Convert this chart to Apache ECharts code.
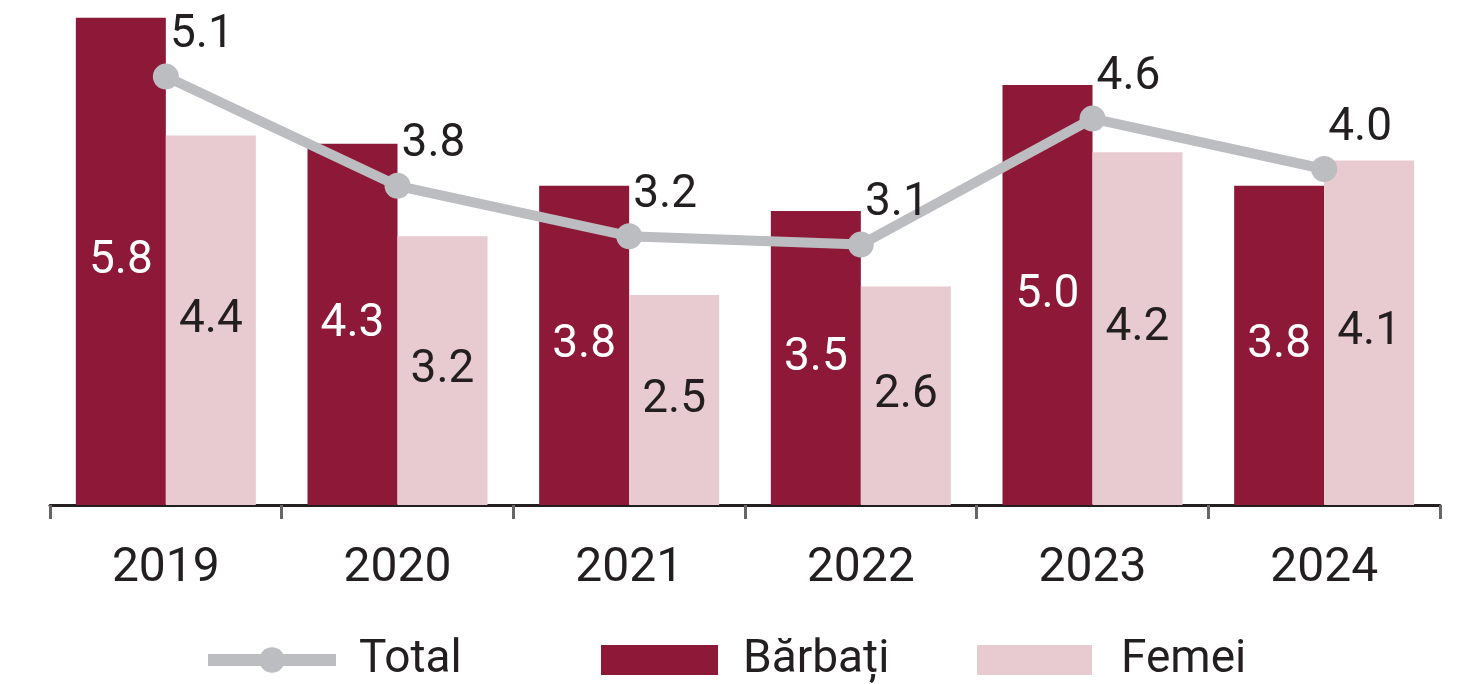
<!DOCTYPE html>
<html>
<head>
<meta charset="utf-8">
<script src="https://cdn.jsdelivr.net/npm/echarts@6/dist/echarts.min.js"></script>
<style>
html, body { margin: 0; padding: 0; background: #fff; }
#chart { width: 1461px; height: 684px; }
</style>
</head>
<body>
<div id="chart"></div>
<script>
var years = ['2019', '2020', '2021', '2022', '2023', '2024'];
var totalValues = [5.1, 3.8, 3.2, 3.1, 4.6, 4.0];   // Total
var menValues = [5.8, 4.3, 3.8, 3.5, 5.0, 3.8];     // Bărbați
var womenValues = [4.4, 3.2, 2.5, 2.6, 4.2, 4.1];   // Femei

var font = 'Roboto, sans-serif';
var textColor = '#231f20';

var myChart = echarts.init(document.getElementById('chart'));

var option = {
    animation: false,
    textStyle: { fontFamily: font },
    grid: {
        left: 50,
        right: 21,
        top: 1,
        bottom: 179
    },
    legend: [
        {
            data: ['Total'],
            left: 197,
            top: 632,
            itemWidth: 128,
            itemHeight: 32,
            lineStyle: { width: 12, color: '#bcbdc0' },
            itemStyle: { color: '#bcbdc0' },
            textStyle: { fontSize: 46, color: textColor, fontFamily: font, padding: [0, 0, 0, 18] }
        },
        {
            data: ['Bărbați'],
            left: 596,
            top: 632,
            icon: 'rect',
            itemWidth: 117,
            itemHeight: 30,
            textStyle: { fontSize: 46, color: textColor, fontFamily: font, padding: [0, 0, 0, 20] }
        },
        {
            data: ['Femei'],
            left: 972,
            top: 632,
            icon: 'rect',
            itemWidth: 115,
            itemHeight: 30,
            textStyle: { fontSize: 46, color: textColor, fontFamily: font, padding: [0, 0, 0, 24] }
        }
    ],
    xAxis: {
        type: 'category',
        data: years,
        axisLine: { lineStyle: { color: textColor, width: 3 } },
        axisTick: { show: true, length: 14, lineStyle: { color: '#666', width: 3 } },
        axisLabel: { fontSize: 48, color: textColor, margin: 40, fontFamily: font }
    },
    yAxis: {
        type: 'value',
        min: 0,
        max: 6,
        show: false,
        splitLine: { show: false }
    },
    series: [
        {
            name: 'Bărbați',
            type: 'bar',
            data: menValues,
            barWidth: 90,
            barGap: '0%',
            itemStyle: { color: '#8e1838' },
            label: {
                show: true,
                position: 'inside',
                color: '#ffffff',
                fontSize: 46,
                fontFamily: font,
                formatter: function (p) { return p.value.toFixed(1); }
            }
        },
        {
            name: 'Femei',
            type: 'bar',
            data: womenValues,
            barWidth: 90,
            barGap: '0%',
            itemStyle: { color: '#e8cbd0' },
            label: {
                show: true,
                position: 'inside',
                color: textColor,
                fontSize: 46,
                fontFamily: font,
                formatter: function (p) { return p.value.toFixed(1); }
            }
        },
        {
            name: 'Total',
            type: 'line',
            data: totalValues,
            z: 5,
            symbol: 'circle',
            symbolSize: 26,
            lineStyle: { color: '#bcbdc0', width: 10 },
            itemStyle: { color: '#bcbdc0' },
            label: {
                show: true,
                position: 'top',
                distance: 0,
                offset: [36, -5],
                color: textColor,
                fontSize: 46,
                fontFamily: font,
                formatter: function (p) { return p.value.toFixed(1); }
            }
        }
    ]
};

myChart.setOption(option);
</script>
</body>
</html>
